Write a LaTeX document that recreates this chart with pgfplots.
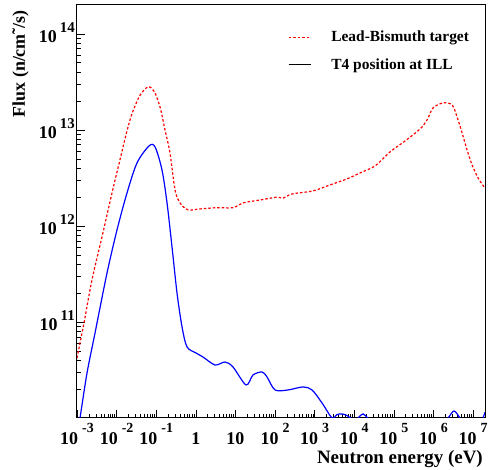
\documentclass[border=0pt]{standalone}
\usepackage{fontspec}
\setmainfont{Liberation Serif}
\usepackage{pgfplots}
\usepackage{pgfplotstable}
\pgfplotsset{compat=1.18}

% bold label font and ROOT-like powers of ten
\newcommand\lbl{\fontsize{18}{20}\selectfont\bfseries}
\newcommand\sx[1]{10\hspace{4bp}\raisebox{12bp}{\fontsize{14}{14}\selectfont\bfseries #1}}
\newcommand\sy[1]{10\hspace{3bp}\raisebox{10bp}{\fontsize{15}{15}\selectfont\bfseries #1}}

% neutron energy (eV) vs flux (n/cm^2/s)
\pgfplotstableread{
E        F
1.000e-3 4.217e10
1.503e-3 9.772e10
2.393e-3 2.754e11
4.276e-3 7.674e11
7.656e-3 2.208e12
1.219e-2 4.898e12
1.832e-2 9.772e12
2.455e-2 1.479e13
3.890e-2 2.291e13
6.209e-2 2.805e13
8.913e-2 2.512e13
0.1247   1.738e13
0.1667   1.000e13
0.2228   5.754e12
0.2985   2.371e12
0.3990   1.738e12
0.6353   1.469e12
1.276    1.503e12
3.428    1.549e12
8.690    1.549e12
15.56    1.738e12
41.78    1.862e12
112.2    1.995e12
159.2    1.950e12
268.5    2.153e12
912.0    2.317e12
2449     2.673e12
6577     3.090e12
13996    3.565e12
33497    4.217e12
80168    5.902e12
191867   7.674e12
459198   1.023e13
688652   1.271e13
977237   1.694e13
1.746e6  1.910e13
2.951e6  1.820e13
3.945e6  1.365e13
5.272e6  9.311e12
7.047e6  6.194e12
9.441e6  4.315e12
1.337e7  3.162e12
1.897e7  2.547e12
2.000e7  2.455e12
}\leadbismuth

\pgfplotstableread{
E        F
1.122e-3 9.12e9
1.191e-3 1.000e10
1.791e-3 2.944e10
2.851e-3 7.674e10
5.728e-3 3.236e11
1.023e-2 9.078e11
1.832e-2 2.208e12
3.273e-2 4.529e12
6.577e-2 6.808e12
9.333e-2 6.653e12
0.1400   3.828e12
0.1875   1.738e12
0.2506   6.039e11
0.3350   2.004e11
0.4487   8.872e10
0.5998   5.495e10
1.012    4.753e10
1.521    4.315e10
3.055    3.565e10
5.458    3.828e10
8.690    3.396e10
18.54    2.208e10
27.80    2.805e10
46.99    3.013e10
62.81    2.673e10
100      1.959e10
212.8    1.959e10
509.3    2.104e10
859.0    1.959e10
1538     1.432e10
2754     1.000e10
3631     1.084e10
4898     1.102e10
6607     1.059e10
8710     9.77e9
10715    9.44e9
13183    1.023e10
16596    1.102e10
21878    1.000e10
31623    8.51e9
1e5      7.59e9
6.31e5   7.59e9
1.778e6  8.91e9
2.344e6  1.000e10
3.311e6  1.183e10
4.677e6  1.000e10
6.31e6   8.51e9
1e7      7.94e9
1.585e7  9.12e9
1.778e7  1.000e10
2.000e7  1.148e10
}\tfour

\begin{document}
\begin{tikzpicture}
\useasboundingbox (-77bp,-52bp) rectangle (411bp,418bp);
\begin{axis}[
  scale only axis, width=408bp, height=413bp,
  xmode=log, ymode=log,
  xmin=1e-3, xmax=2e7, ymin=1e10, ymax=2e14,
  axis line style={line width=1bp},
  tick align=inside, xtick pos=bottom, ytick pos=left,
  major tick length=8bp, minor tick length=4bp,
  tick style={black, line width=0.6bp},
  xtick={1e-3,1e-2,1e-1,1,10,100,1e3,1e4,1e5,1e6,1e7},
  xticklabels={\sx{-3},\sx{-2},\sx{-1},1,10,\sx{2},\sx{3},\sx{4},\sx{5},\sx{6},\sx{7}},
  minor xtick={2e-3,3e-3,4e-3,5e-3,6e-3,7e-3,8e-3,9e-3,
    2e-2,3e-2,4e-2,5e-2,6e-2,7e-2,8e-2,9e-2,
    2e-1,3e-1,4e-1,5e-1,6e-1,7e-1,8e-1,9e-1,
    2,3,4,5,6,7,8,9,20,30,40,50,60,70,80,90,
    200,300,400,500,600,700,800,900,
    2e3,3e3,4e3,5e3,6e3,7e3,8e3,9e3,
    2e4,3e4,4e4,5e4,6e4,7e4,8e4,9e4,
    2e5,3e5,4e5,5e5,6e5,7e5,8e5,9e5,
    2e6,3e6,4e6,5e6,6e6,7e6,8e6,9e6},
  ytick={1e11,1e12,1e13,1e14},
  yticklabels={\sy{11},\sy{12},\sy{13},\sy{14}},
  minor ytick={2e10,3e10,4e10,5e10,6e10,7e10,8e10,9e10,
    2e11,3e11,4e11,5e11,6e11,7e11,8e11,9e11,
    2e12,3e12,4e12,5e12,6e12,7e12,8e12,9e12,
    2e13,3e13,4e13,5e13,6e13,7e13,8e13,9e13},
  xticklabel style={anchor=base, yshift=-27bp, font=\lbl, inner sep=0pt},
  yticklabel style={anchor=base east, xshift=-2bp, yshift=-9bp, font=\lbl, inner sep=0pt},
  legend style={draw=none, fill=none, at={(rel axis cs:0.517,0.942)}, anchor=north west,
    font=\fontsize{15.5}{17}\selectfont\bfseries, row sep=11bp, inner sep=0pt},
  legend cell align=left,
  legend image code/.code={\draw[#1] (0bp,0bp) -- (22bp,0bp); \path (40bp,0bp);},
]
\addplot[red, line width=1.2bp, dash pattern=on 2.5bp off 2bp, smooth, forget plot]
  table[x=E, y=F] {\leadbismuth};
\addplot[blue, line width=1.2bp, smooth, forget plot]
  table[x=E, y=F] {\tfour};
\addlegendimage{red, line width=1.2bp, dash pattern=on 2.5bp off 2bp}
\addlegendentry{Lead-Bismuth target}
\addlegendimage{black, line width=1bp}
\addlegendentry{T4 position at ILL}
\end{axis}
\node[anchor=base east, font=\fontsize{19}{21}\selectfont\bfseries, inner sep=0pt] at (406bp,-45bp) {Neutron energy (eV)};
\node[anchor=base east, rotate=90, font=\lbl, inner sep=0pt] at (-52bp,408bp) {Flux (n/cm\symbol{"02DC}/s)};
\end{tikzpicture}
\end{document}
